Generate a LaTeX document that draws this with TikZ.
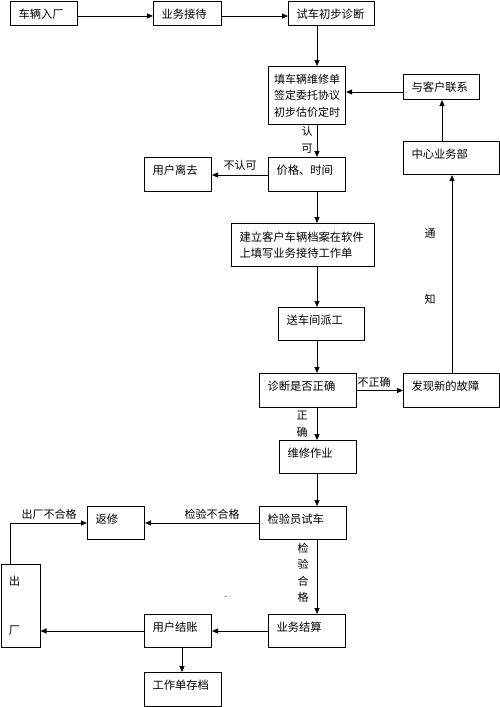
\documentclass[tikz,border=0pt]{standalone}
\usepackage{fontspec}
\newfontfamily\cjk{Noto Sans CJK SC}
\usetikzlibrary{arrows.meta}
\begin{document}
\begin{tikzpicture}[x=1pt,y=-1pt,
  box/.style={draw,line width=1pt,inner xsep=8pt,inner ysep=0pt,align=left,anchor=north west,
    font=\cjk\fontsize{11.3}{16}\selectfont},
  one/.style={text height=17pt,text depth=#1},
  arr/.style={line width=1pt,-{Triangle[length=6pt,width=5pt]}},
  lab/.style={inner sep=0pt,align=center,font=\cjk\fontsize{11}{16.5}\selectfont}]
\useasboundingbox (0,0) rectangle (500,707);
% boxes
\node[box,one=7pt,text width=51pt] (n1) at (10,1) {车辆入厂};
\node[box,one=7pt,text width=52pt] (n2) at (153,1) {业务接待};
\node[box,one=7pt,text width=70pt] (n3) at (288,1) {试车初步诊断};
\node[box,inner xsep=5.5pt,text width=66pt,minimum height=58pt,font=\cjk\fontsize{11}{16.5}\selectfont] (n4) at (268,66) {填车辆维修单\\签定委托协议\\初步估价定时};
\node[box,one=8pt,text width=60pt] (lx) at (403,74) {与客户联系};
\node[box,one=16pt,text width=80pt] (zx) at (403,141) {中心业务部};
\node[box,one=17pt,text width=61pt] (jg) at (268,157) {价格、时间};
\node[box,one=17pt,text width=51pt] (lq) at (144,157) {用户离去};
\node[box,text width=127pt,minimum height=43pt,font=\cjk\fontsize{11.3}{15.5}\selectfont] (jl) at (231,223) {建立客户车辆档案在软件\\上填写业务接待工作单};
\node[box,one=16pt,text width=70pt] (sc) at (278,307) {送车间派工};
\node[box,one=17pt,text width=81pt] (zd) at (259,373) {诊断是否正确};
\node[box,one=17pt,text width=80pt] (fx) at (403,373) {发现新的故障};
\node[box,one=16pt,text width=61pt] (wx) at (279,440) {维修作业};
\node[box,one=16pt,text width=71pt] (jy) at (259,506) {检验员试车};
\node[box,one=16pt,text width=41pt] (fs) at (87,506) {返修};
\node[box,text width=23pt,minimum height=83pt] (cc) at (0.5,564) {出\\[33pt]厂};
\node[box,one=16pt,text width=61pt] (yj) at (268,614) {业务结算};
\node[box,one=16pt,text width=51pt] (yz) at (144,614) {用户结账};
\node[box,one=17pt,text width=61pt] (gz) at (144,672) {工作单存档};
% helper coordinates
\coordinate (h1) at (0,16);
\coordinate (h2) at (0,92);
\coordinate (h3) at (0,175);
\coordinate (c) at (317,0);
\coordinate (c2) at (442,0);
\coordinate (c3) at (452,0);
\coordinate (c4) at (182,0);
\coordinate (c5) at (10,0);
% connectors
\draw[arr] (n1.east |- h1) -- (n2.west |- h1);
\draw[arr] (n2.east |- h1) -- (n3.west |- h1);
\draw[arr] (n3.south -| c) -- (n4.north -| c);
\draw[arr] (n4.south -| c) -- (jg.north -| c);
\draw[arr] (jg.south -| c) -- (jl.north -| c);
\draw[arr] (jl.south -| c) -- (sc.north -| c);
\draw[arr] (sc.south -| c) -- (zd.north -| c);
\draw[arr] (zd.south -| c) -- (wx.north -| c);
\draw[arr] (wx.south -| c) -- (jy.north -| c);
\draw[arr] (jy.south -| c) -- (yj.north -| c);
\draw[arr] (lx.west |- h2) -- (n4.east |- h2);
\draw[arr] (zx.north -| c2) -- (lx.south -| c2);
\draw[arr] (fx.north -| c3) -- (zx.south -| c3);
\draw[arr] (jg.west |- h3) -- (lq.east |- h3);
\draw[arr] (zd.east) -- (fx.west);
\draw[arr] (jy.west) -- (fs.east);
\draw[arr] (yj.west) -- (yz.east);
\draw[arr] (yz.west) -- (cc.east |- yz.west);
\draw[arr] (yz.south -| c4) -- (gz.north -| c4);
\draw[arr] (cc.north -| c5) |- (fs.west);
% labels
\node[lab] (l1) at (307,140) {认\\可};
\node[lab] (l2) at (240,165) {不认可};
\node[lab] (l3) at (430,233) {通};
\node[lab] (l4) at (430,299) {知};
\node[lab] (l5) at (374,382) {不正确};
\node[lab] (l6) at (302,424) {正\\确};
\node[lab] (l7) at (212,514) {检验不合格};
\node[lab] (l8) at (49,514) {出厂不合格};
\node[lab] (l9) at (303,573) {检\\验\\合\\格};
\node[inner sep=0pt,font=\fontsize{7}{8}\selectfont] (dot) at (226,598) {-};
\end{tikzpicture}
\end{document}
